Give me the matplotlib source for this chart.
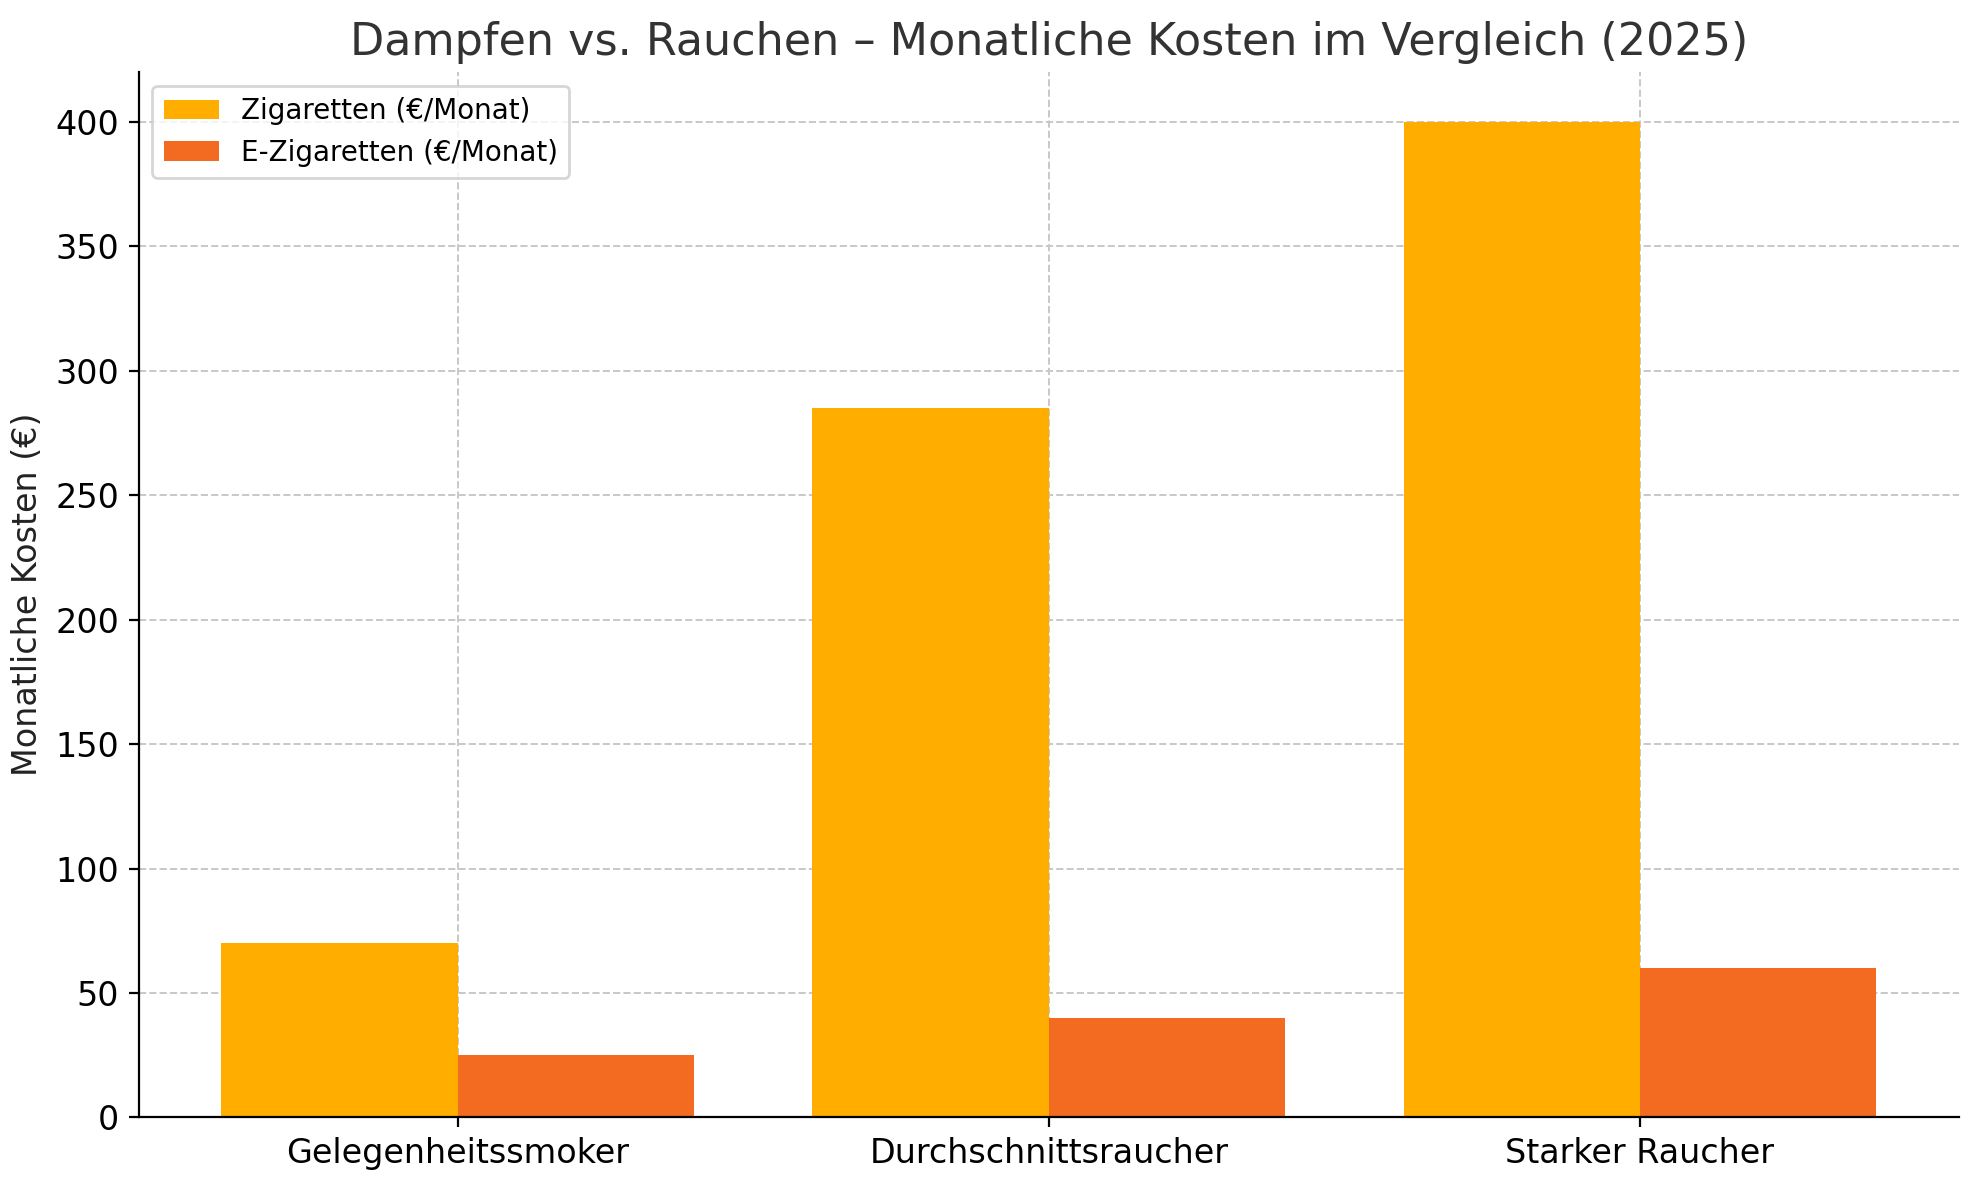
import numpy as np
import matplotlib.pyplot as plt

categories = ['Gelegenheitssmoker', 'Durchschnittsraucher', 'Starker Raucher']
zigaretten = [70, 285, 400]
e_zigaretten = [25, 40, 60]

x = np.arange(len(categories))
width = 0.4

fig, ax = plt.subplots(figsize=(9.895, 5.9), dpi=200)
ax.bar(x - width, zigaretten, width, align='edge', color='#FFAE00', label='Zigaretten (€/Monat)', zorder=2)
ax.bar(x, e_zigaretten, width, align='edge', color='#F26B21', label='E-Zigaretten (€/Monat)', zorder=2)

ax.set_xticks(x)
ax.set_xticklabels(categories, fontsize=12)
ax.tick_params(axis='y', labelsize=12)
ax.set_ylim(0, 420)
ax.set_ylabel('Monatliche Kosten (€)', fontsize=12, color='#222222')
ax.set_title('Dampfen vs. Rauchen – Monatliche Kosten im Vergleich (2025)', fontsize=16, color='#333333')
ax.grid(True, linestyle='--', color='#c8c8c8', linewidth=0.7, zorder=0)
ax.spines['top'].set_visible(False)
ax.spines['right'].set_visible(False)
ax.legend(loc='upper left', fontsize=10)

fig.subplots_adjust(left=0.07, right=0.99, top=0.939, bottom=0.053)
fig.savefig('out.png', dpi=200)
